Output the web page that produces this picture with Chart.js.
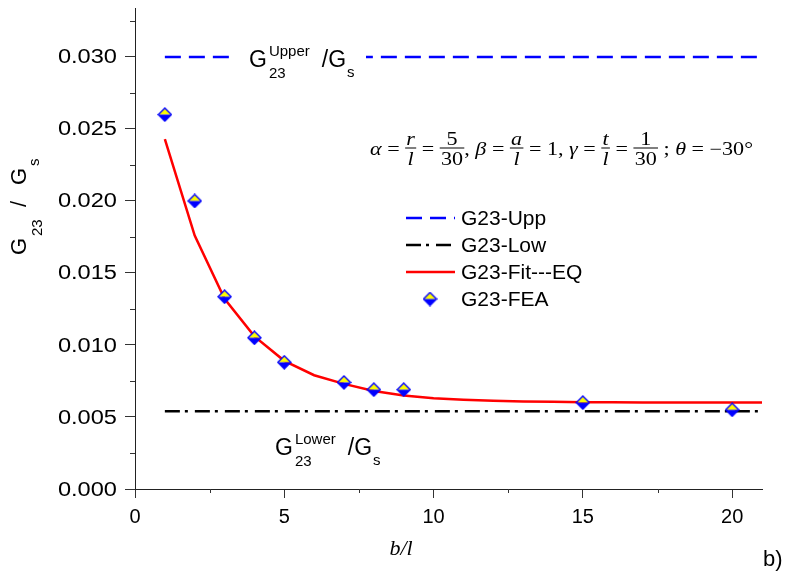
<!DOCTYPE html>
<html>
<head>
<meta charset="utf-8">
<script src="https://cdn.jsdelivr.net/npm/chart.js@4.4.0/dist/chart.umd.min.js"></script>
<style>
html, body { margin: 0; padding: 0; background: #fff; }
canvas { display: block; }
</style>
</head>
<body>
<canvas id="chart" width="790" height="579"></canvas>
<script>
// FEA results, b/l against G23/Gs
const feaX = [1, 2, 3, 4, 5, 7, 8, 9, 15, 20];
const feaY = [0.0260, 0.0200, 0.01335, 0.0105, 0.0088, 0.0074, 0.0069, 0.0069, 0.0060, 0.0055];

// fitted equation, sampled at integer b/l
const fitX = [1, 2, 3, 4, 5, 6, 7, 8, 9, 10, 11, 12, 13, 14, 15, 16, 17, 18, 19, 20, 21];
const fitY = [0.0243, 0.0176, 0.0132, 0.0106, 0.0089, 0.0079, 0.0073, 0.0068, 0.0065, 0.0063,
              0.00619, 0.00612, 0.00608, 0.00605, 0.00603, 0.00602, 0.00601, 0.0060, 0.0060, 0.0060, 0.0060];

// upper / lower bounds
const boundX = [1, 21];
const upperY = [0.030, 0.030];
const lowerY = [0.0054, 0.0054];

// axes
const xTicks = [0, 5, 10, 15, 20];
const xMinor = [2.5, 7.5, 12.5, 17.5];
const yTicks = [0, 0.005, 0.010, 0.015, 0.020, 0.025, 0.030];
const yMinor = [0.0025, 0.0075, 0.0125, 0.0175, 0.0225, 0.0275, 0.0325];

const SANS = '"Liberation Sans", Arial, sans-serif';
const SERIF = '"Liberation Serif", "Times New Roman", serif';

function toPts(xs, ys) {
  return xs.map((x, i) => ({ x: x, y: ys[i] }));
}

function makeDiamond(size) {
  const c = document.createElement('canvas');
  c.width = size; c.height = size;
  const g = c.getContext('2d');
  const h = size / 2;
  g.beginPath(); g.moveTo(h, 1); g.lineTo(size - 1, h); g.lineTo(1, h); g.closePath();
  g.fillStyle = '#ffff00'; g.fill();
  g.beginPath(); g.moveTo(1, h); g.lineTo(size - 1, h); g.lineTo(h, size - 1); g.closePath();
  g.fillStyle = '#0000ff'; g.fill();
  g.beginPath(); g.moveTo(h, 1); g.lineTo(size - 1, h); g.lineTo(h, size - 1); g.lineTo(1, h); g.closePath();
  g.strokeStyle = '#0000ff'; g.lineWidth = 1.4; g.stroke();
  return c;
}
const diamond = makeDiamond(15);

// G + sup/sub + "/G" + sub s, laid out left to right
function drawRatioLabel(ctx, x, b, sup, bigPx, smallPx) {
  ctx.textAlign = 'left';
  ctx.textBaseline = 'alphabetic';
  ctx.font = bigPx + 'px ' + SANS;
  ctx.fillText('G', x, b);
  x += ctx.measureText('G').width + 2;
  ctx.font = smallPx + 'px ' + SANS;
  let w = ctx.measureText('23').width;
  if (sup) {
    ctx.fillText(sup, x, b - 11);
    w = Math.max(w, ctx.measureText(sup).width);
  }
  ctx.fillText('23', x, b + 11);
  x += w + 12;
  ctx.font = bigPx + 'px ' + SANS;
  ctx.fillText('/G', x, b);
  x += ctx.measureText('/G').width + 1;
  ctx.font = smallPx + 'px ' + SANS;
  ctx.fillText('s', x, b + 10);
}

// formula: alpha = r/l = 5/30, beta = a/l = 1, gamma = t/l = 1/30 ; theta = -30°
const formula = [
  { t: 'α', it: true }, { t: ' = ' }, { num: 'r', den: 'l', it: true }, { t: ' = ' },
  { num: '5', den: '30' }, { t: ', ' }, { t: 'β', it: true }, { t: ' = ' },
  { num: 'a', den: 'l', it: true }, { t: ' = 1, ' }, { t: 'γ', it: true }, { t: ' = ' },
  { num: 't', den: 'l', it: true }, { t: ' = ' }, { num: '1', den: '30' }, { t: ' ; ' },
  { t: 'θ', it: true }, { t: ' = −30°' }
];

function layFormula(ctx, b, px, draw) {
  let x = 0;
  formula.forEach(f => {
    ctx.font = (f.it ? 'italic ' : '') + px + 'px ' + SERIF;
    if (f.t !== undefined) {
      if (draw) ctx.fillText(f.t, x, b);
      x += ctx.measureText(f.t).width;
    } else {
      const wn = ctx.measureText(f.num).width;
      const wd = ctx.measureText(f.den).width;
      const w = Math.max(wn, wd) + 2;
      if (draw) {
        ctx.fillText(f.num, x + (w - wn) / 2, b - 10);
        ctx.fillText(f.den, x + (w - wd) / 2, b + 10);
        ctx.fillRect(x, b - 7.5, w, 1);
      }
      x += w;
    }
  });
  return x;
}

function drawFormula(ctx, x0, x1, b, px) {
  ctx.textBaseline = 'alphabetic';
  ctx.textAlign = 'left';
  const natural = layFormula(ctx, b, px, false);
  ctx.save();
  ctx.translate(x0, 0);
  ctx.scale((x1 - x0) / natural, 1);
  layFormula(ctx, b, px, true);
  ctx.restore();
}

const annotations = {
  id: 'annotations',
  afterDraw(chart) {
    const ctx = chart.ctx;
    const xs = chart.scales.x, ys = chart.scales.y;
    ctx.save();
    ctx.fillStyle = '#000';
    ctx.strokeStyle = '#333';
    ctx.lineWidth = 1;

    // minor ticks
    ctx.beginPath();
    xMinor.forEach(v => {
      const px = Math.round(xs.getPixelForValue(v)) + 0.5;
      ctx.moveTo(px, xs.top); ctx.lineTo(px, xs.top + 4);
    });
    yMinor.forEach(v => {
      const py = Math.round(ys.getPixelForValue(v)) + 0.5;
      ctx.moveTo(ys.right - 5, py); ctx.lineTo(ys.right, py);
    });
    ctx.stroke();

    // y tick labels (drawn wide, as in the original export)
    ctx.font = '20px ' + SANS;
    ctx.textAlign = 'right';
    ctx.textBaseline = 'middle';
    yTicks.forEach(v => {
      const py = ys.getPixelForValue(v);
      ctx.save();
      ctx.translate(117, py + 1);
      ctx.scale(1.18, 1);
      ctx.fillText(v.toFixed(3), 0, 0);
      ctx.restore();
    });

    // upper bound label on a white box
    const yUp = ys.getPixelForValue(upperY[0]);
    ctx.fillStyle = '#fff';
    ctx.fillRect(234, yUp - 14, 132, 30);
    ctx.fillStyle = '#000';
    drawRatioLabel(ctx, 249, yUp + 10, 'Upper', 23, 15);

    // lower bound label
    const yLo = ys.getPixelForValue(lowerY[0]);
    drawRatioLabel(ctx, 275, yLo + 44, 'Lower', 23, 15);

    // formula
    drawFormula(ctx, 370, 753, 155, 18);

    // axis titles
    ctx.save();
    ctx.translate(26, 255);
    ctx.rotate(-Math.PI / 2);
    ctx.textAlign = 'left';
    ctx.textBaseline = 'alphabetic';
    ctx.font = '22px ' + SANS;
    ctx.fillText('G', 0, 0);
    ctx.font = '15px ' + SANS;
    ctx.fillText('23', 19, 16);
    ctx.font = '22px ' + SANS;
    ctx.fillText('/', 48, 0);
    ctx.fillText('G', 70, 0);
    ctx.font = '15px ' + SANS;
    ctx.fillText('s', 89, 13);
    ctx.restore();

    ctx.font = 'italic 22px ' + SERIF;
    ctx.textAlign = 'center';
    ctx.textBaseline = 'middle';
    ctx.fillText('b/l', 401, 549);

    ctx.font = '22px ' + SANS;
    ctx.textAlign = 'left';
    ctx.fillText('b)', 763, 560);

    // legend
    const rows = [218, 245, 272, 299];
    chart.data.datasets.forEach((ds, i) => {
      const ry = rows[i];
      if (ds.showLine) {
        ctx.strokeStyle = ds.borderColor;
        ctx.lineWidth = ds.borderWidth;
        ctx.setLineDash(ds.borderDash || []);
        ctx.beginPath(); ctx.moveTo(406, ry); ctx.lineTo(455, ry); ctx.stroke();
        ctx.setLineDash([]);
      } else {
        ctx.drawImage(diamond, 430 - diamond.width / 2, ry - diamond.height / 2);
      }
      ctx.fillStyle = '#000';
      ctx.font = '21px ' + SANS;
      ctx.textAlign = 'left';
      ctx.textBaseline = 'middle';
      ctx.fillText(ds.label, 461, ry + 1);
    });
    ctx.restore();
  }
};

const tickFont = { family: SANS, size: 20 };

new Chart(document.getElementById('chart'), {
  type: 'scatter',
  data: {
    datasets: [
      { label: 'G23-Upp', data: toPts(boundX, upperY), showLine: true, borderColor: '#0000ff',
        borderWidth: 2.5, borderDash: [16, 8], pointRadius: 0, order: 3 },
      { label: 'G23-Low', data: toPts(boundX, lowerY), showLine: true, borderColor: '#000000',
        borderWidth: 2.5, borderDash: [15, 5, 3, 7], pointRadius: 0, order: 2 },
      { label: 'G23-Fit---EQ', data: toPts(fitX, fitY), showLine: true, borderColor: '#ff0000',
        borderWidth: 2.5, pointRadius: 0, tension: 0, order: 1 },
      { label: 'G23-FEA', data: toPts(feaX, feaY), showLine: false, pointStyle: diamond,
        pointRadius: 7, order: 0 }
    ]
  },
  options: {
    responsive: false,
    animation: false,
    layout: { padding: { left: 0, top: 2, right: 28, bottom: 0 } },
    plugins: { legend: { display: false }, tooltip: { enabled: false } },
    scales: {
      x: {
        type: 'linear', min: 0, max: 21,
        afterFit: s => { s.height = 90; s.paddingLeft = 0; s.paddingRight = 0; },
        afterBuildTicks: s => { s.ticks = xTicks.map(v => ({ value: v })); },
        ticks: { font: tickFont, color: '#000', padding: 7, maxRotation: 0, callback: v => String(v) },
        grid: { drawOnChartArea: false, tickLength: 9, color: '#333' },
        border: { color: '#222', width: 1 }
      },
      y: {
        type: 'linear', min: 0, max: 0.0334,
        afterFit: s => { s.width = 135; s.paddingTop = 0; s.paddingBottom = 0; },
        afterBuildTicks: s => { s.ticks = yTicks.map(v => ({ value: v })); },
        ticks: { display: false },
        grid: { drawOnChartArea: false, tickLength: 10, color: '#333' },
        border: { color: '#222', width: 1 }
      }
    }
  },
  plugins: [annotations]
});
</script>
</body>
</html>
